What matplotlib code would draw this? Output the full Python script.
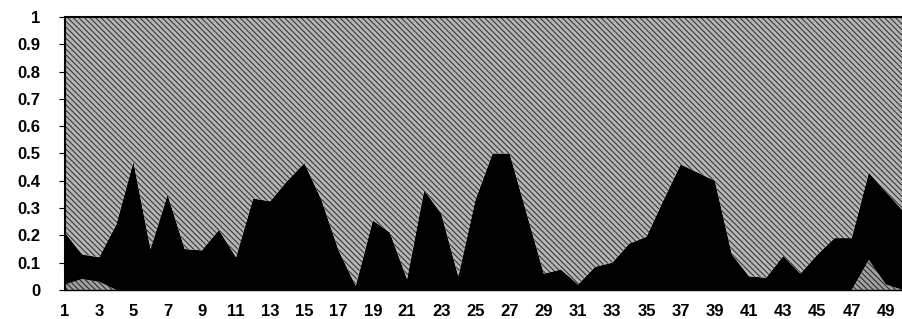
import numpy as np
import matplotlib.pyplot as plt

plt.rcParams['font.family'] = ['Liberation Sans', 'DejaVu Sans']
plt.rcParams['hatch.linewidth'] = 0.7

# categories 1..50
cats = np.arange(1, 51)

# small hatched series at the bottom
low = [0.02, 0.04, 0.03, 0, 0, 0, 0, 0, 0, 0,
       0, 0, 0, 0, 0, 0, 0, 0, 0, 0,
       0, 0, 0, 0, 0, 0, 0, 0, 0, 0,
       0, 0, 0, 0, 0, 0, 0, 0, 0, 0,
       0, 0, 0, 0, 0, 0, 0, 0.11, 0.02, 0]

# top edge of the black area
black_top = [0.21, 0.13, 0.12, 0.24, 0.47, 0.15, 0.35, 0.15, 0.145, 0.22,
             0.12, 0.335, 0.325, 0.40, 0.465, 0.33, 0.145, 0.015, 0.255, 0.21,
             0.04, 0.365, 0.28, 0.05, 0.33, 0.50, 0.50, 0.28, 0.06, 0.075,
             0.02, 0.085, 0.10, 0.17, 0.195, 0.33, 0.46, 0.43, 0.40, 0.13,
             0.05, 0.045, 0.125, 0.06, 0.13, 0.19, 0.19, 0.43, 0.36, 0.29]

low = np.array(low)
black = np.array(black_top) - low
rest = 1 - low - black

fig = plt.figure(figsize=(9.03, 3.19), dpi=100)
ax = fig.add_axes([0.072, 0.091, 0.928, 0.856])

polys = ax.stackplot(cats, low, black, rest,
                     colors=['#a0a0a0', 'black', '#b4b4b4'], linewidth=0)
polys[0].set_hatch('\\\\\\\\\\\\')
polys[0].set_edgecolor('#202020')
polys[2].set_hatch('\\\\\\\\\\\\')
polys[2].set_edgecolor('#2a2a2a')

ax.set_xlim(1, 50)
ax.set_ylim(0, 1)
ax.set_yticks(np.arange(0, 1.01, 0.1))
ax.set_yticklabels(['0'] + [f'{v:.1f}' for v in np.arange(0.1, 0.95, 0.1)] + ['1'],
                   fontsize=12, fontweight='bold')
ax.set_xticks(cats[::2])
ax.set_xticklabels([str(c) for c in cats[::2]], fontsize=12, fontweight='bold')
ax.tick_params(axis='x', length=0, pad=10)
ax.tick_params(axis='y', length=4, width=0.8, pad=14)

for side in ['top', 'left']:
    ax.spines[side].set_linewidth(1.5)
ax.spines['right'].set_visible(False)
ax.spines['bottom'].set_linewidth(1.0)

fig.savefig('out.png', dpi=100)
